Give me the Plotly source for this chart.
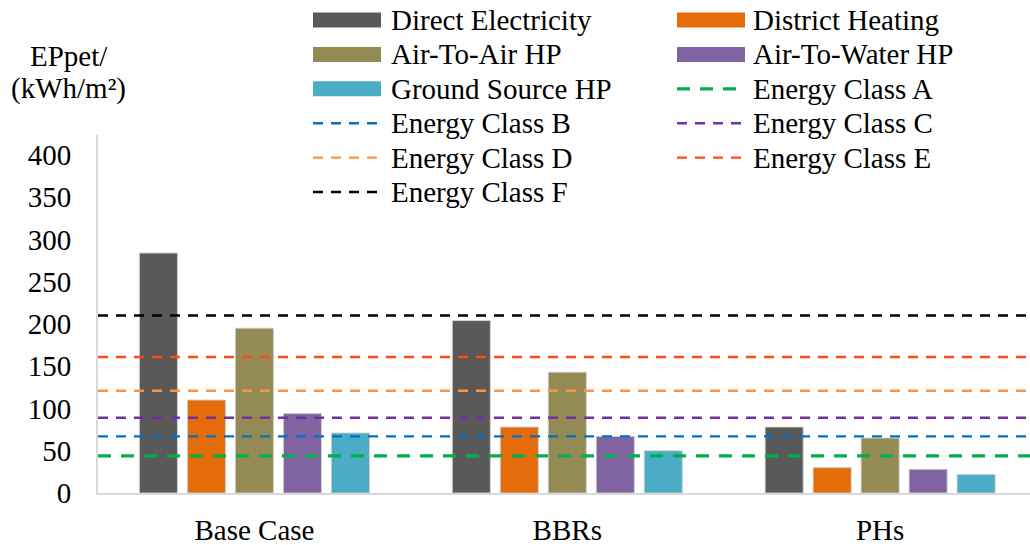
import plotly.graph_objects as go

# Scenarios on the category axis
scenarios = ["Base Case", "BBRs", "PHs"]

# Primary energy per heating system, kWh/m²
heating_systems = ["Direct Electricity", "District Heating", "Air-To-Air HP",
                   "Air-To-Water HP", "Ground Source HP"]
direct_electricity = [284, 204, 78]
district_heating = [110, 78, 30]
air_to_air_hp = [195, 143, 65]
air_to_water_hp = [94, 67, 28]
ground_source_hp = [71, 50, 22]
bar_colors = ["#595959", "#E46C0A", "#948A54", "#8064A2", "#4BACC6"]

# Energy class limits, kWh/m²
energy_classes = ["Energy Class A", "Energy Class B", "Energy Class C",
                  "Energy Class D", "Energy Class E", "Energy Class F"]
class_limits = [44, 67, 89, 121, 161, 210]
class_colors = ["#00B050", "#0070C0", "#7030A0", "#F79646", "#FF4A1C", "#000000"]

y_ticks = [0, 50, 100, 150, 200, 250, 300, 350, 400]

FONT = "Liberation Serif"
W, H = 1030, 545
ML, MR, MT, MB = 98, 0, 135, 52
PW, PH = W - ML - MR, H - MT - MB


def px_x(px):
    return (px - ML) / PW


def px_y(py):
    return (H - MB - py) / PH


series = [direct_electricity, district_heating, air_to_air_hp,
          air_to_water_hp, ground_source_hp]

fig = go.Figure()
for name, vals, col in zip(heating_systems, series, bar_colors):
    fig.add_trace(go.Bar(
        x=scenarios, y=vals, name=name, showlegend=False,
        marker=dict(color=col, line=dict(color="rgba(205,205,205,0.9)", width=1)),
    ))

# Class limits as dashed horizontal lines across the plot
for name, lim, col in zip(energy_classes, class_limits, class_colors):
    is_a = name.endswith("A")
    fig.add_shape(
        type="line", xref="paper", yref="y", x0=0, x1=1, y0=lim, y1=lim,
        line=dict(color=col, width=3.2 if is_a else 2.4,
                  dash="13px,10px" if is_a else "10px,8px"),
        layer="above",
    )

# Two-column legend drawn above the plot
legend_items = ([(n, "bar", c) for n, c in zip(heating_systems, bar_colors)]
                + [(n, "line", c) for n, c in zip(energy_classes, class_colors)])
col_swatch = [(313, 381, 389), (677, 745, 751)]
row_y0, row_step = 20.0, 34.4
for i, (name, kind, col) in enumerate(legend_items):
    r, c = divmod(i, 2)
    sx0, sx1, tx = col_swatch[c]
    cy = row_y0 + r * row_step
    if kind == "bar":
        fig.add_shape(type="rect", xref="paper", yref="paper",
                      x0=px_x(sx0), x1=px_x(sx1), y0=px_y(cy - 7.5), y1=px_y(cy + 7.5),
                      fillcolor=col, line=dict(width=0))
    else:
        is_a = name.endswith("A")
        fig.add_shape(type="line", xref="paper", yref="paper",
                      x0=px_x(sx0), x1=px_x(sx1), y0=px_y(cy), y1=px_y(cy),
                      line=dict(color=col, width=3.2 if is_a else 2.4,
                                dash="13px,10px" if is_a else "10px,8px"))
    fig.add_annotation(text=name, xref="paper", yref="paper",
                       x=px_x(tx), y=px_y(cy), xanchor="left", yanchor="middle",
                       showarrow=False, font=dict(family=FONT, size=29, color="black"))

# Y-axis title in two lines at the top left
fig.add_annotation(text="EPpet/", xref="paper", yref="paper",
                   x=px_x(69), y=px_y(56), xanchor="center", yanchor="middle",
                   showarrow=False, font=dict(family=FONT, size=29, color="black"))
fig.add_annotation(text="(kWh/m²)", xref="paper", yref="paper",
                   x=px_x(68), y=px_y(89), xanchor="center", yanchor="middle",
                   showarrow=False, font=dict(family=FONT, size=29, color="black"))

fig.update_layout(
    width=W, height=H,
    margin=dict(l=ML, r=MR, t=MT, b=MB, pad=0),
    paper_bgcolor="white", plot_bgcolor="white",
    barmode="group", bargap=0.233, bargroupgap=0.208,
    font=dict(family=FONT, size=29, color="black"),
    xaxis=dict(range=[-0.5, 2.479], showgrid=False, showline=True,
               linecolor="#d9d9d9", linewidth=2, ticks="", ticklabelstandoff=10,
               tickfont=dict(family=FONT, size=29, color="black")),
    yaxis=dict(range=[0, 423.7], tickvals=y_ticks, showgrid=False, zeroline=False,
               showline=True, linecolor="#d9d9d9", linewidth=2, ticks="",
               ticklabelstandoff=19,
               tickfont=dict(family=FONT, size=29, color="black")),
)

fig.write_html("out.html")
